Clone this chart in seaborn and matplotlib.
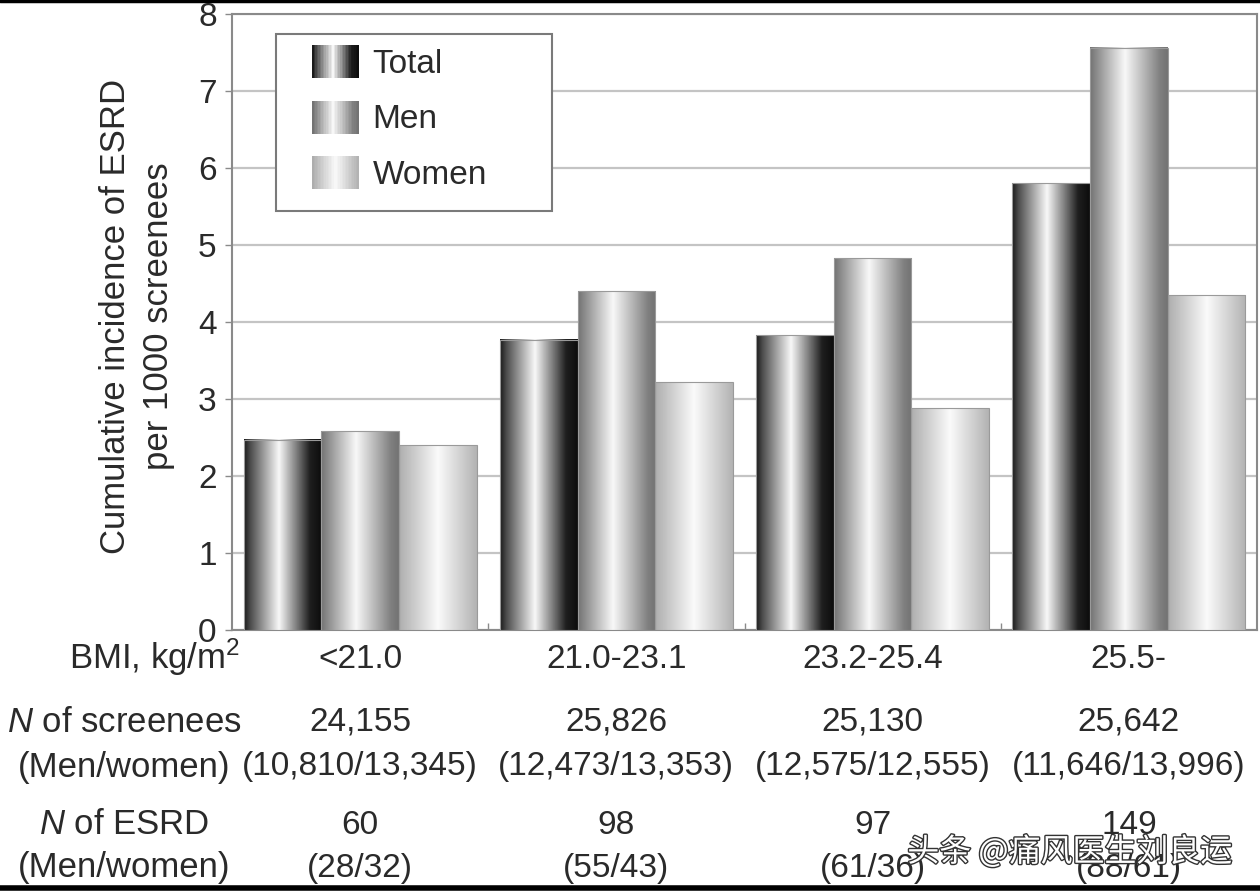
import numpy as np
import pandas as pd
import matplotlib
matplotlib.use("Agg")
import matplotlib.pyplot as plt
import seaborn as sns
from matplotlib.patches import Rectangle
from matplotlib.legend_handler import HandlerBase
from matplotlib.transforms import blended_transform_factory
import matplotlib.patheffects as pe

# data
bmi_groups = ["<21.0", "21.0-23.1", "23.2-25.4", "25.5-"]
total = [2.47, 3.77, 3.83, 5.80]
men = [2.58, 4.40, 4.83, 7.56]
women = [2.40, 3.22, 2.88, 4.35]
n_screenees = ["24,155", "25,826", "25,130", "25,642"]
n_screenees_mw = ["(10,810/13,345)", "(12,473/13,353)", "(12,575/12,555)", "(11,646/13,996)"]
n_esrd = ["60", "98", "97", "149"]
n_esrd_mw = ["(28/32)", "(55/43)", "(61/36)", "(88/61)"]

series = ["Total", "Men", "Women"]
df = pd.DataFrame({
    "BMI": bmi_groups * 3,
    "value": total + men + women,
    "group": [s for s in series for _ in bmi_groups],
})

# grey level profiles across each bar (0=black, 1=white)
profiles = {
    "Total": ([0, 0.08, 0.45, 0.85, 1.0], [0.1, 0.3, 0.97, 0.12, 0.05]),
    "Men": ([0, 0.45, 0.9, 1.0], [0.45, 0.97, 0.5, 0.45]),
    "Women": ([0, 0.5, 1.0], [0.68, 0.98, 0.7]),
}


def shade(name, n=200):
    xp, fp = profiles[name]
    return np.interp(np.linspace(0, 1, n), xp, fp)


sns.set_style("white")
plt.rcParams["font.family"] = ["Liberation Sans", "DejaVu Sans"]
plt.rcParams["mathtext.fontset"] = "custom"
plt.rcParams["mathtext.it"] = "Liberation Sans:italic"
plt.rcParams["mathtext.rm"] = "Liberation Sans"

TXT = "#2a2a2a"
fig = plt.figure(figsize=(12.6, 8.91), dpi=100)
ax = fig.add_axes([232 / 1260, 1 - 630 / 891, 1025 / 1260, 616 / 891])

sns.barplot(data=df, x="BMI", y="value", hue="group", hue_order=series,
            width=0.91, palette=["#444", "#888", "#ccc"], ax=ax, zorder=2,
            legend=False, linewidth=0)

# paint each bar with a cylinder-like gradient
for name, cont in zip(series, ax.containers):
    g = shade(name)[None, :]
    for p in cont.patches:
        x0, w, h = p.get_x(), p.get_width(), p.get_height()
        ax.imshow(g, cmap="gray", vmin=0, vmax=1, aspect="auto",
                  extent=[x0, x0 + w, 0, h], zorder=3, interpolation="bilinear")
        ax.add_patch(Rectangle((x0, 0), w, h, fill=False, ec="#9a9a9a", lw=0.8, zorder=4))

ax.set_xlim(-0.5, 3.5)
ax.set_ylim(0, 8)
ax.set_yticks(range(9))
ax.set_xticks([0.5, 1.5, 2.5], minor=True)
ax.yaxis.grid(True, color="#c4c4c4", lw=1.6, zorder=0)
ax.set_axisbelow(True)
for s in ax.spines.values():
    s.set_color("#8a8a8a")
    s.set_linewidth(1.5)
ax.tick_params(axis="y", length=5, width=1, color="#8a8a8a", labelsize=24,
               labelcolor=TXT, pad=6, left=True)
ax.tick_params(axis="x", length=0, labelsize=24, labelcolor=TXT, pad=10)
ax.tick_params(axis="x", which="minor", length=5, width=1, color="#8a8a8a",
               direction="in", bottom=True)
ax.set_xlabel("")
ax.set_ylabel("")

fig.text(137 / 1260, 1 - 316 / 891, "Cumulative incidence of ESRD\nper 1000 screenees",
         rotation=90, ha="center", va="center", fontsize=25, color=TXT,
         linespacing=1.35)


# legend with gradient swatches
class GradHandler(HandlerBase):
    def create_artists(self, legend, orig_handle, xd, yd, width, height, fontsize, trans):
        vals = shade(orig_handle.get_label(), 30)
        arts = []
        for i, v in enumerate(vals):
            r = Rectangle((-xd + width * i / len(vals), -yd), width / len(vals) + 0.3, height,
                          fc=str(v), ec="none", transform=trans)
            arts.append(r)
        return arts


# legend box
ax.add_patch(Rectangle((276 / 1260, 1 - 211 / 891), 276 / 1260, 177 / 891,
                       transform=fig.transFigure, fc="white", ec="#7a7a7a", lw=1.5,
                       zorder=5, clip_on=False))

handles = [Rectangle((0, 0), 1, 1, label=s) for s in series]
leg = ax.legend(handles=handles, labels=series, handler_map={Rectangle: GradHandler()},
                loc="upper left", bbox_to_anchor=(312 / 1260, 1 - 45 / 891),
                bbox_transform=fig.transFigure,
                fontsize=24, frameon=False, handlelength=1.4,
                handleheight=1.15, labelspacing=0.62, borderpad=0, handletextpad=0.42,
                borderaxespad=0)
for t in leg.get_texts():
    t.set_color(TXT)
leg.set_zorder(6)

# table below the axis
tr = blended_transform_factory(ax.transData, fig.transFigure)
rows = [(722, n_screenees), (767, n_screenees_mw), (825, n_esrd), (868, n_esrd_mw)]
for ypix, labels in rows:
    for i, lab in enumerate(labels):
        ax.text(i, 1 - ypix / 891, lab, transform=tr, ha="center", va="center",
                fontsize=24, color=TXT)

fig.text(240 / 1260, 1 - 657 / 891, r"BMI, kg/m$^2$", ha="right", va="center",
         fontsize=25, color=TXT)
row_labels = [(722, r"$\mathit{N}$ of screenees"), (767, "(Men/women)"),
              (825, r"$\mathit{N}$ of ESRD"), (868, "(Men/women)")]
for ypix, lab in row_labels:
    fig.text(124 / 1260, 1 - ypix / 891, lab, ha="center", va="center",
             fontsize=25, color=TXT)

# frame lines at the top and bottom of the picture
fig.add_artist(plt.Line2D([0, 1], [1 - 1 / 891, 1 - 1 / 891], color="black", lw=2.5,
                          transform=fig.transFigure))
fig.add_artist(plt.Line2D([0, 1], [3 / 891, 3 / 891], color="black", lw=4,
                          transform=fig.transFigure))

# watermark
fig.text(1070 / 1260, 1 - 852 / 891, "头条 @痛风医生刘良运", ha="center", va="center",
         fontsize=23, color="white", family=["Noto Sans CJK SC", "DejaVu Sans"],
         path_effects=[pe.withStroke(linewidth=2, foreground="#333333")])

fig.savefig("out.png", dpi=100)
